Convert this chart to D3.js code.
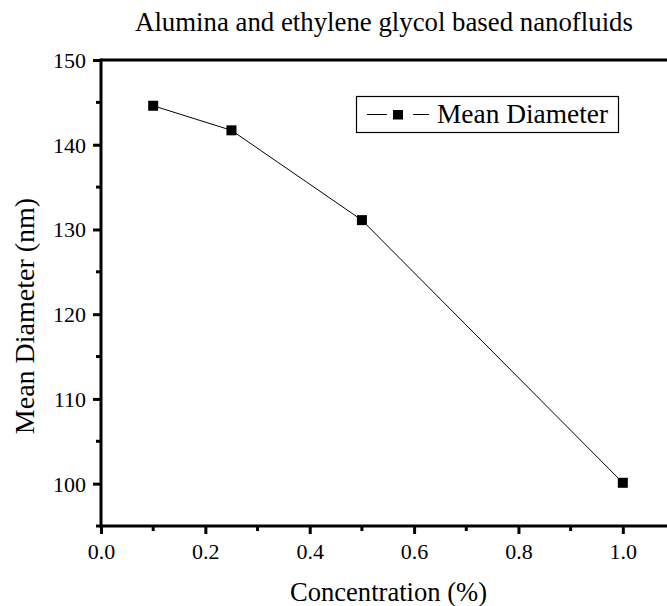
<!DOCTYPE html>
<html><head><meta charset="utf-8">
<script src="https://cdn.jsdelivr.net/npm/d3@7"></script>
<style>body{margin:0;background:#fff}svg{display:block}text{font-family:"Liberation Serif","Times New Roman",serif;fill:#000}</style>
</head><body>
<script>
const concentration = [0.1, 0.25, 0.5, 1.0];
const meanDiameter = [144.6, 141.7, 131.1, 100.1];
const xTicks = [0.0, 0.2, 0.4, 0.6, 0.8, 1.0];
const yTicks = [100, 110, 120, 130, 140, 150];
const seriesName = "Mean Diameter";
const title = "Alumina and ethylene glycol based nanofluids";
const xLabel = "Concentration (%)";
const yLabel = "Mean Diameter (nm)";

const W = 667, H = 606;
const svg = d3.select("body").append("svg").attr("width", W).attr("height", H);
const x = d3.scaleLinear().domain([0, 1.1]).range([101, 675]);
const y = d3.scaleLinear().domain([95, 150]).range([526, 60]);

const xMinor = [0.1, 0.3, 0.5, 0.7, 0.9];
const yMinor = [95, 105, 115, 125, 135, 145];

const g = svg.append("g");
const xAxis = g.append("g").attr("transform", `translate(0,${y(95)})`)
  .call(d3.axisBottom(x).tickValues(xTicks).tickFormat(d3.format(".1f")).tickSize(8).tickSizeOuter(0));
xAxis.select(".domain").remove();
xAxis.selectAll(".tick line").attr("stroke-width", 3);
xAxis.selectAll(".tick text").attr("font-size", 22).attr("y", 17.5).attr("dy", "0.71em");
xAxis.selectAll(".minor").data(xMinor).enter().append("line")
  .attr("x1", d => x(d)).attr("x2", d => x(d)).attr("y1", 0).attr("y2", 5)
  .attr("stroke", "#000").attr("stroke-width", 3);

const yAxis = g.append("g").attr("transform", `translate(${x(0)},0)`)
  .call(d3.axisLeft(y).tickValues(yTicks).tickSize(8).tickSizeOuter(0));
yAxis.select(".domain").remove();
yAxis.selectAll(".tick line").attr("stroke-width", 3);
yAxis.selectAll(".tick text").attr("font-size", 22).attr("x", -15).attr("dy", "0.34em");
yAxis.selectAll(".minor").data(yMinor).enter().append("line")
  .attr("y1", d => y(d)).attr("y2", d => y(d)).attr("x1", 0).attr("x2", -5)
  .attr("stroke", "#000").attr("stroke-width", 3);

// frame
g.append("line").attr("x1", x(0)).attr("x2", W).attr("y1", y(95)).attr("y2", y(95)).attr("stroke", "#000").attr("stroke-width", 3);
g.append("line").attr("x1", x(0)).attr("x2", W).attr("y1", y(150)).attr("y2", y(150)).attr("stroke", "#000").attr("stroke-width", 3);
g.append("line").attr("x1", x(0)).attr("x2", x(0)).attr("y1", y(150) - 1.5).attr("y2", y(95) + 1.5).attr("stroke", "#000").attr("stroke-width", 3);

const data = concentration.map((c, i) => ({c, v: meanDiameter[i]}));
svg.append("path").datum(data)
  .attr("d", d3.line().x(d => x(d.c)).y(d => y(d.v)))
  .attr("fill", "none").attr("stroke", "#000").attr("stroke-width", 1);
svg.selectAll(".pt").data(data).enter().append("rect")
  .attr("x", d => x(d.c) - 5).attr("y", d => y(d.v) - 5)
  .attr("width", 10).attr("height", 10).attr("fill", "#000");

// legend
const lg = svg.append("g");
lg.append("rect").attr("x", 356.5).attr("y", 96.5).attr("width", 262).attr("height", 36)
  .attr("fill", "#fff").attr("stroke", "#000").attr("stroke-width", 1.2);
lg.append("line").attr("x1", 367).attr("x2", 387).attr("y1", 114.5).attr("y2", 114.5).attr("stroke", "#000").attr("stroke-width", 1);
lg.append("line").attr("x1", 413).attr("x2", 429).attr("y1", 114.5).attr("y2", 114.5).attr("stroke", "#000").attr("stroke-width", 1);
lg.append("rect").attr("x", 393).attr("y", 110).attr("width", 10).attr("height", 9.5).attr("fill", "#000");
lg.append("text").attr("x", 437).attr("y", 123).attr("font-size", 27.4).text(seriesName);

svg.append("text").attr("x", 384).attr("y", 31).attr("text-anchor", "middle").attr("font-size", 26.8).text(title);
svg.append("text").attr("x", 388.5).attr("y", 601).attr("text-anchor", "middle").attr("font-size", 26.6).text(xLabel);
svg.append("text").attr("transform", `translate(34,316) rotate(-90)`).attr("text-anchor", "middle").attr("font-size", 28).text(yLabel);
</script>
</body></html>
